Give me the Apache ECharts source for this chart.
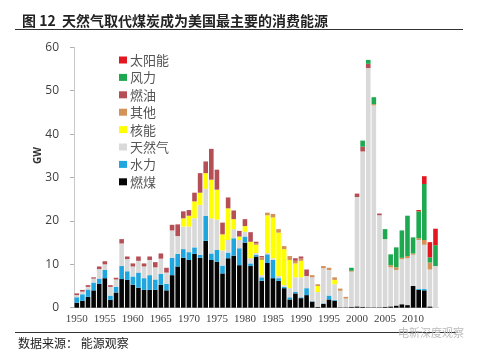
<!DOCTYPE html>
<html>
<head>
<meta charset="utf-8">
<script src="https://cdn.jsdelivr.net/npm/echarts@6/dist/echarts.min.js"></script>
<style>html,body{margin:0;padding:0;background:#fff;}#c{width:480px;height:353px;}</style>
</head>
<body>
<div id="c"></div>
<script>
var years = [];
for (var y = 1950; y <= 2014; y++) years.push(String(y));

var coal = [1.15,1.6,2.5,4.0,5.5,6.8,1.8,3.5,6.6,6.4,5.3,4.6,4.1,4.1,4.1,5.3,4.0,7.5,9.5,11.5,11.0,12.4,11.5,15.4,11.0,10.6,7.9,11.4,12.0,9.8,15.0,9.6,11.8,6.2,10.3,6.8,6.2,4.5,1.9,3.3,2.2,2.9,1.4,0.2,0.9,1.9,1.6,0.1,0.1,0.2,0.3,0.2,0.1,0.1,0.1,0.2,0.3,0.5,0.8,0.6,5.0,4.1,4.0,0.3,0];
var hydro = [1.25,1.5,1.7,1.8,1.2,1.9,1.0,1.3,3.0,2.0,1.9,3.5,2.7,3.4,2.4,2.5,1.5,4.0,2.9,2.0,1.8,1.5,0.7,5.8,1.5,2.7,1.8,1.3,4.0,3.9,1.4,0.6,0.4,0.8,2.0,4.2,0.6,0.3,0.5,0.4,0.2,1.6,0.1,0,0.1,0.9,0.2,0,0,0,0,0,0,0,0,0,0,0,0,0,0,0.2,0.3,0,0];
var gas = [0.5,0.6,0.6,0.9,2.2,1.3,2.0,1.7,5.2,2.8,2.3,2.7,2.7,3.5,2.8,3.5,2.6,6.3,4.1,5.2,5.9,6.7,11.5,6.2,8.1,7.0,3.5,2.9,2.1,1.9,1.1,1.2,0.4,0.5,0.3,0.4,0.5,0.4,2.1,3.3,4.6,2.8,5.5,3.4,8.1,5.9,3.6,3.8,2.0,8.1,25.2,35.8,55.1,46.5,21.2,15.6,9.0,8.2,10.4,10.8,7.2,11.3,10.2,8.5,9.6];
var nuclear = [0,0,0,0,0,0,0,0,0,0,0,0,0,0,0,0,0,0,0,1.9,2.5,3.9,2.8,3.6,8.9,6.9,3.7,7.3,2.3,0.8,1.3,3.8,1.9,3.5,8.7,9.4,10.0,8.3,6.5,3.2,3.8,0,0,1.4,0,0,1.0,0,0,0,0,0,0,0,0,0,0,0,0,0,0,0,0,0,0];
var other = [0,0,0,0,0,0,0,0,0,0,0,0,0,0,0,0,0,0,0,0,0,0,0,0,0,0,0,0,0,0,0,0,0.3,0.6,0.6,0.8,0.8,0.7,0.9,0.6,0.5,0,0.5,0.4,0.5,0.5,0.6,0.5,0.4,0.2,0,0,0,0.3,0,0,0.5,0.6,0.3,0.5,0.3,0.4,1.1,1.6,0];
var oil = [0.4,0.4,0.4,0.3,0.6,0.7,0.4,0.4,1.0,0.6,0.7,1.0,0.7,0.8,1.2,1.2,1.1,1.3,2.7,1.6,1.3,2.0,4.5,2.7,7.1,4.6,2.7,2.5,2.0,1.3,1.6,2.2,0.4,0.3,0,0,0,0,0,0.6,0.5,1.5,0,0,0,0,0,0,0,0,0.8,1.1,1.0,0,0.4,0,0,0,0,0,0,0,0,0,0];
var wind = [0,0,0,0,0,0,0,0,0,0,0,0,0,0,0,0,0,0,0,0,0,0,0,0,0,0,0,0,0,0,0,0,0,0,0,0,0,0,0,0,0,0,0,0,0,0,0,0,0,0.7,0,1.4,0.9,1.6,0,2.3,2.5,4.6,6.3,9.3,3.7,6.2,12.9,1.2,4.8];
var solar = [0,0,0,0,0,0,0,0,0,0,0,0,0,0,0,0,0,0,0,0,0,0,0,0,0,0,0,0,0,0,0,0,0,0,0,0,0,0,0,0,0,0,0,0,0,0,0,0,0,0,0,0,0,0,0,0,0,0,0,0,0,0.3,1.8,3.5,3.8];

var yTicks = [0,10,20,30,40,50,60];
var legendOrder = ['太阳能','风力','燃油','其他','核能','天然气','水力','燃煤'];

var FONT_CJK = '"Noto Sans CJK SC", sans-serif';

var seriesDefs = [
  {name:'燃煤', data:coal, color:'#050505'},
  {name:'水力', data:hydro, color:'#20A6DF'},
  {name:'天然气', data:gas, color:'#D9D9D9'},
  {name:'核能', data:nuclear, color:'#FFFF00'},
  {name:'其他', data:other, color:'#D39258'},
  {name:'燃油', data:oil, color:'#B54E55'},
  {name:'风力', data:wind, color:'#1CA94F'},
  {name:'太阳能', data:solar, color:'#E3171F'}
];

var chart = echarts.init(document.getElementById('c'), null, {renderer:'canvas'});
chart.setOption({
  animation:false,
  backgroundColor:'#fff',
  title:{
    text:'图 12  天然气取代煤炭成为美国最主要的消费能源',
    left:17, top:9,
    textStyle:{fontFamily:FONT_CJK, fontSize:14, fontWeight:'bold', color:'#222'}
  },
  legend:{
    data:legendOrder,
    orient:'vertical',
    left:114, top:48,
    itemWidth:8, itemHeight:7,
    itemGap:3.4,
    icon:'rect',
    textStyle:{fontFamily:FONT_CJK, fontSize:13, lineHeight:14, color:'#555', padding:[0,0,0,-2]}
  },
  grid:{left:74, right:41.7, top:47.3, bottom:45.3, containLabel:false},
  xAxis:{
    type:'category',
    data:years,
    axisLine:{show:true, lineStyle:{color:'#d0d0d0'}},
    axisTick:{show:false},
    axisLabel:{
      interval:function(i){return i%5===0;},
      fontFamily:'"Liberation Serif", serif', fontSize:11, color:'#444', margin:6
    }
  },
  yAxis:{
    type:'value',
    min:yTicks[0], max:yTicks[yTicks.length-1], interval:10,
    splitLine:{show:false},
    axisLine:{show:true, lineStyle:{color:'#c8c8c8'}},
    axisTick:{show:true, length:4, lineStyle:{color:'#b0b0b0'}},
    axisLabel:{fontFamily:'"Open Sans", sans-serif', fontSize:12, color:'#404040', margin:15}
  },
  graphic:[
    {type:'line', shape:{x1:15, y1:29.5, x2:463, y2:29.5}, style:{stroke:'#333', lineWidth:1}},
    {type:'line', shape:{x1:15, y1:332.5, x2:458, y2:332.5}, style:{stroke:'#333', lineWidth:1}},
    {type:'text', x:18, y:337, style:{text:'数据来源： 能源观察', fontFamily:FONT_CJK, fontSize:12, fill:'#222'}},
    {type:'text', x:398, y:327, style:{text:'电新深度观察', fontFamily:FONT_CJK, fontSize:11, fill:'#bbbbbb'}},
    {type:'text', x:33, y:164, rotation:Math.PI/2, style:{text:'GW', fontFamily:'"Open Sans", sans-serif', fontSize:10, fontWeight:'bold', fill:'#333'}}
  ],
  series: seriesDefs.map(function(s){
    return {
      name:s.name, type:'bar', stack:'total', data:s.data,
      barCategoryGap:'18%',
      itemStyle:{color:s.color},
      emphasis:{disabled:true}
    };
  })
});
</script>
</body>
</html>
